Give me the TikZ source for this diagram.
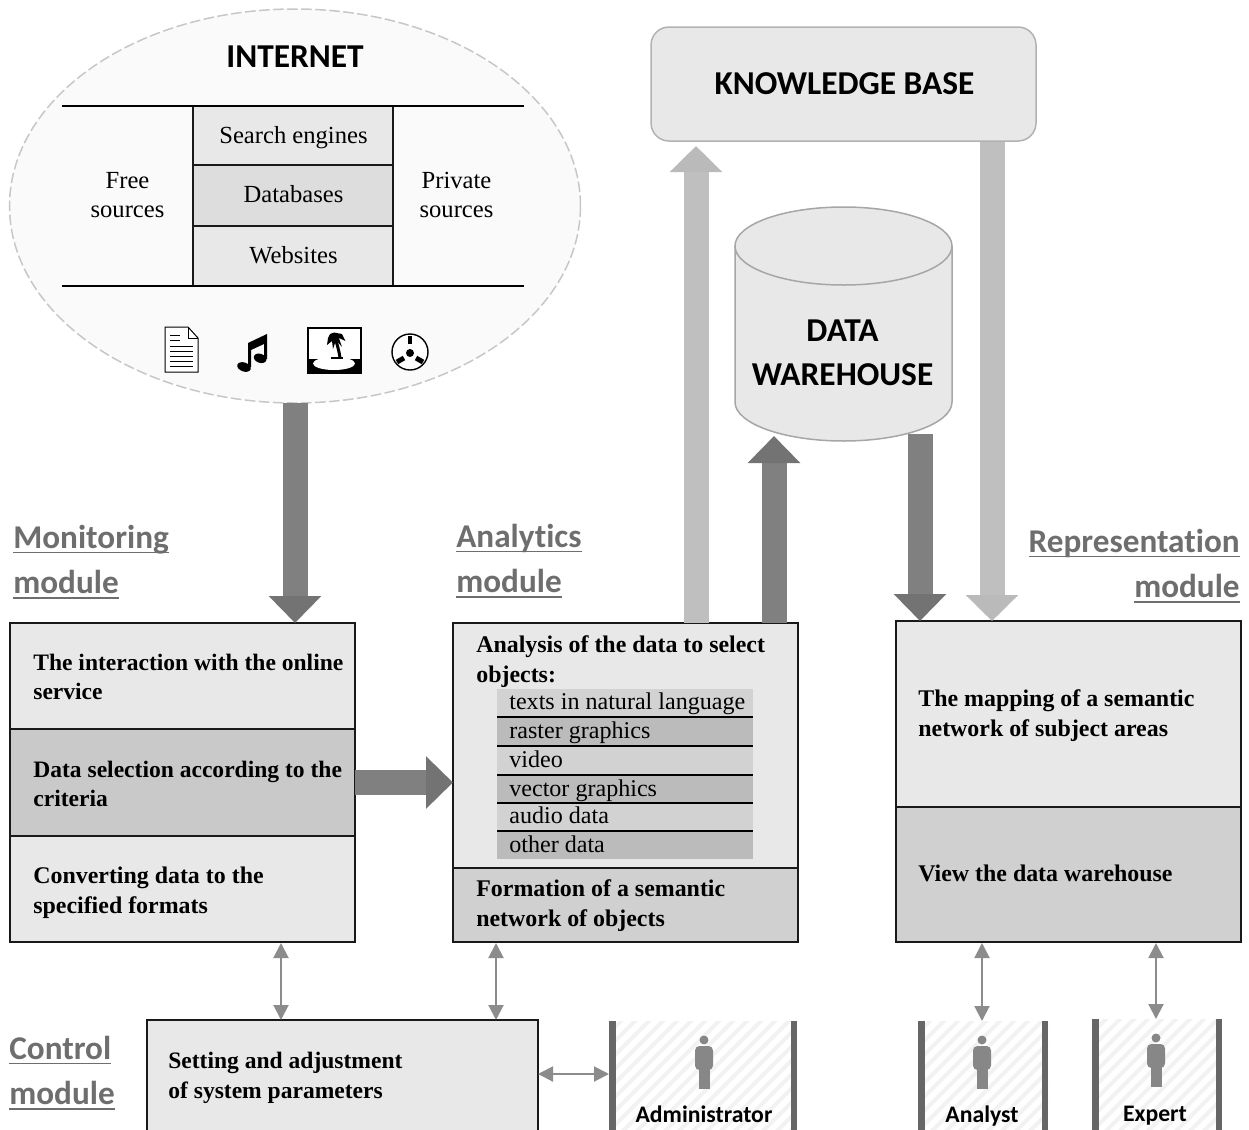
\documentclass[tikz,border=0pt]{standalone}
\usepackage{fontspec}
\setmainfont{Liberation Serif}
\newfontfamily\calfont[Ligatures=CommonOff]{Carlito}
\usetikzlibrary{arrows.meta,calc,shapes.geometric}
\newdimen\px \px=0.02cm
\newcommand\hul[1]{\setbox0=\hbox{#1}\leavevmode\rlap{\rule[-2.7pt]{\wd0}{1pt}}\box0}
\definecolor{cellA}{HTML}{E8E8E8}
\definecolor{cellB}{HTML}{C9C9C9}
\definecolor{cellC}{HTML}{D0D0D0}
\definecolor{cellD}{HTML}{DDDDDD}
\definecolor{rowA}{HTML}{D2D2D2}
\definecolor{rowB}{HTML}{BBBBBB}
\definecolor{headc}{HTML}{6E6E6E}
\tikzset{
  cell/.style={draw=black!90,line width=2\px,inner sep=0pt,outer sep=0pt,anchor=north west},
  plain/.style={font=\fontsize{14}{16.8}\selectfont,align=center,inner sep=0pt},
  boldtxt/.style={font=\fontsize{13.6}{17}\selectfont\bfseries,align=left,anchor=west,inner sep=0pt},
  boldtight/.style={font=\fontsize{13.4}{17}\selectfont\bfseries,align=left,anchor=west,inner sep=0pt},
  rowtxt/.style={font=\fontsize{13.7}{16}\selectfont,anchor=base west,inner sep=0pt},
  rowcell/.style={inner sep=0pt,outer sep=0pt,anchor=north west,minimum width=256\px},
  head/.style={font=\fontsize{18.9}{25.7}\selectfont\calfont\bfseries,text=headc,inner sep=0pt},
  big/.style={font=\fontsize{19}{25}\selectfont\calfont\bfseries,align=center,inner sep=0pt},
  actor/.style={font=\fontsize{13.5}{15}\selectfont\calfont\bfseries,inner sep=0pt},
  blockdark/.style={line width=25\px,draw=black!50,-{Triangle[width=1.02cm,length=0.54cm,color=black!55]}},
  blocklight/.style={line width=25\px,draw=black!25,-{Triangle[width=1.02cm,length=0.52cm,color=black!27]}},
  twoway/.style={line width=2\px,draw=black!45,{Triangle[width=0.3cm,length=0.3cm]}-{Triangle[width=0.3cm,length=0.3cm]}},
  person/.pic={
    \fill[black!47] (0,-23) circle (4.5);
    \fill[black!47,rounded corners=2.5] (-9,-17) rectangle (9,7);
    \fill[black!47] (-5.5,3) rectangle (5.5,26);
  }
}
\begin{document}
\begin{tikzpicture}[x=0.02cm,y=-0.02cm]
\path[use as bounding box] (0,0) rectangle (1249,1130);
\clip (0,0) rectangle (1249,1130);
% Internet
\node[ellipse,draw=black!22,fill=black!2,dash pattern=on 6pt off 2pt,line width=1.5\px,minimum width=571\px,minimum height=394\px,inner sep=0pt,outer sep=0pt] (inet) at (295,206) {};
\node[big] (inettitle) at (295,57) {INTERNET};
\node[cell,fill=cellA,minimum width=200\px,minimum height=59\px] (se) at (193,106) {};
\node[cell,fill=cellD,minimum width=200\px,minimum height=61\px] (db) at (193,165) {};
\node[cell,fill=cellA,minimum width=200\px,minimum height=60\px] (ws) at (193,226) {};
\node[plain,anchor=base] (setxt) at (293.5,143) {Search engines};
\node[plain,anchor=base] (dbtxt) at (293.5,202.5) {Databases};
\node[plain,anchor=base] (wstxt) at (293.5,263.5) {Websites};
\node[plain] (free) at (127.5,195) {Free\\sources};
\node[plain] (priv) at (456.5,195) {Private\\sources};
\coordinate (tl) at (62,106); \coordinate (tr) at (524,106);
\coordinate (bl) at (62,286); \coordinate (br) at (524,286);
\draw[line width=2\px] (tl) -- (tr);
\draw[line width=2\px] (bl) -- (br);
% icons
\draw[line width=1\px,fill=white] (165,327) -- (188,327) -- (198,338) -- (198,372) -- (165,372) -- cycle;
\draw[line width=1\px] (188,327) -- (188,338) -- (198,338);
\foreach \yy/\xx in {335/180,340/180,346/193,351/193,356/193,361/193,366/193}{\draw[line width=1\px] (170,\yy) -- (\xx,\yy);}
\fill[rotate around={-20:(244,367)}] (244,367) ellipse (7 and 4.5);
\fill[rotate around={-20:(262,359)}] (260,359) ellipse (6.5 and 4.5);
\fill (248,343) -- (267,334) -- (267,359) -- (264,359) -- (264,344) -- (251,350) -- (251,367) -- (248,367) -- cycle;
\draw[line width=2\px,fill=white] (308,327.5) rectangle (361,373);
\fill (308,359) rectangle (361,373);
\fill[white] (334,363.5) ellipse (21 and 6.5);
\fill (331,357) rectangle (343,359);
\draw[line width=3\px] (340,358) .. controls (339,350) and (337,345) .. (335.5,338);
\fill (334,332.5) -- (342,334) -- (345.5,341) -- (339,338) -- (342,347) -- (336,340) -- (333,349) -- (332,341) -- (327,345) -- (328,338) -- (330,334) -- cycle;
\draw[line width=1.4\px,fill=white] (410,352) circle (18);
\fill (410,353) circle (4);
\draw[line width=4\px] (410,336) -- (410,344);
\draw[line width=5\px] (397,362) -- (404,358);
\draw[line width=5\px] (423,362) -- (416,358);
% Headings
\node[head,anchor=west,align=left] (hmon) at (13,562) {\hul{Monitoring}\\\hul{module}};
\node[head,anchor=west,align=left] (hana) at (456,561) {\hul{Analytics}\\\hul{module}};
\node[head,anchor=east,align=right] (hrep) at (1240,566) {\hul{Representation}\\\hul{module}};
\node[head,anchor=west,align=left] (hcon) at (9,1073) {\hul{Control}\\\hul{module}};
% Monitoring
\node[cell,fill=cellA,minimum width=345\px,minimum height=106\px] (m1) at (10,623) {};
\node[cell,fill=cellB,minimum width=345\px,minimum height=107\px] (m2) at (10,729) {};
\node[cell,fill=cellA,minimum width=345\px,minimum height=106\px] (m3) at (10,836) {};
\node[boldtight] (m1t) at (33,677) {The interaction with the online\\service};
\node[boldtight] (m2t) at (33,784) {Data selection according to the\\criteria};
\node[boldtxt] (m3t) at (33,893) {Converting data to the\\specified formats};
% Analytics
\node[cell,fill=cellA,minimum width=345\px,minimum height=245\px] (a1) at (453,623) {};
\node[cell,fill=cellC,minimum width=345\px,minimum height=74\px] (a2) at (453,868) {};
\node[boldtxt] (a1t) at (476,662) {Analysis of the data to select\\objects:};
\node[boldtxt] (a2t) at (476,906) {Formation of a semantic\\network of objects};
\node[rowcell,fill=rowA,minimum height=28\px] (r1) at (497,689) {};
\node[rowcell,fill=rowB,minimum height=29\px] (r2) at (497,717) {};
\node[rowcell,fill=rowA,minimum height=29\px] (r3) at (497,746) {};
\node[rowcell,fill=rowB,minimum height=28\px] (r4) at (497,775) {};
\node[rowcell,fill=rowA,minimum height=28\px] (r5) at (497,803) {};
\node[rowcell,fill=rowB,minimum height=28\px] (r6) at (497,831) {};
\foreach \n in {2,...,6}{\draw[line width=1.6\px] (r\n.north west) -- (r\n.north east);}
\node[rowtxt] (r1t) at (509,709) {texts in natural language};
\node[rowtxt] (r2t) at (509,738) {raster graphics};
\node[rowtxt] (r3t) at (509,767) {video};
\node[rowtxt] (r4t) at (509,796) {vector graphics};
\node[rowtxt] (r5t) at (509,823.5) {audio data};
\node[rowtxt] (r6t) at (509,852) {other data};
% Representation
\node[cell,fill=cellA,minimum width=345\px,minimum height=186\px] (p1) at (896,621) {};
\node[cell,fill=cellC,minimum width=345\px,minimum height=135\px] (p2) at (896,807) {};
\node[boldtxt] (p1t) at (918,716) {The mapping of a semantic\\network of subject areas};
\node[boldtxt] (p2t) at (918,873) {View the data warehouse};
% Knowledge base
\node[draw=black!30,fill=cellA,line width=1.5\px,rounded corners=18\px,minimum width=385\px,minimum height=114\px,inner sep=0pt,outer sep=0pt] (kb) at (843.5,84) {};
\node[big] (kbt) at (844.5,84) {KNOWLEDGE BASE};
% Data warehouse
\draw[draw=black!35,fill=cellA,line width=1.5\px] (735,246) -- (735,402) arc[start angle=180,end angle=360,x radius=108.5,y radius=-39] -- (952,246);
\draw[draw=black!35,fill=cellA,line width=1.5\px] (843.5,246) ellipse (108.5 and 39);
\node[big,font=\fontsize{19}{25.3}\selectfont\calfont\bfseries] (dw) at (842.5,353) {DATA\\WAREHOUSE};
% Control
\node[cell,fill=cellA,minimum width=391\px,minimum height=130\px] (ctl) at (147,1020) {};
\node[boldtight] (ctlt) at (168,1078) {Setting and adjustment\\of system parameters};
% Actors
\foreach \nm/\xa/\xb/\yt in {adm/609/797/1021,ana/918/1048/1021,exp/1092/1222/1019}{
  \begin{scope}
    \clip (\xa,\yt) rectangle (\xb,1130);
    \foreach \k in {0,...,26}{\draw[black!5,line width=4\px] ({\xa-130+\k*14},1135) -- ({\xa-130+\k*14+125},1010);}
  \end{scope}
  \fill[black!60] (\xa,\yt) rectangle ++(6.5,115);
  \fill[black!60] ({\xb-6.5},\yt) rectangle ++(6.5,115);
}
\coordinate (admL) at (609,1074);
\coordinate (anaT) at (982,1021);
\coordinate (expT) at (1156,1019);
\pic at (704,1063) {person};
\pic at (982,1063) {person};
\pic at (1156,1061) {person};
\node[actor] (admt) at (704,1114) {Administrator};
\node[actor] (anat) at (982,1116) {Analyst};
\node[actor] (expt) at (1155,1116) {Expert};
% Block arrows
\coordinate (k1) at (696,146);
\coordinate (k2) at (992,142);
\coordinate (w1) at (774,436);
\coordinate (w2) at (920,434);
\draw[blockdark] (inet.south) -- (inet.south |- m1.north);
\draw[blockdark] (m2.east) -- (a1.west |- m2.east);
\draw[blocklight] (k1 |- a1.north) -- (k1);
\draw[blockdark] (w1 |- a1.north) -- (w1);
\draw[blockdark] (w2) -- (w2 |- p1.north);
\draw[blocklight] (k2) -- (k2 |- p1.north);
% Two-way arrows
\coordinate (c1) at (281,943); \coordinate (c2) at (496,943);
\coordinate (c3) at (982,943); \coordinate (c4) at (1156,943);
\draw[twoway] (c1) -- (c1 |- ctl.north);
\draw[twoway] (c2) -- (c2 |- ctl.north);
\draw[twoway] (ctl.east |- admL) -- (admL);
\draw[twoway] (c3) -- (c3 |- anaT);
\draw[twoway] (c4) -- (c4 |- expT);
\end{tikzpicture}
\end{document}
